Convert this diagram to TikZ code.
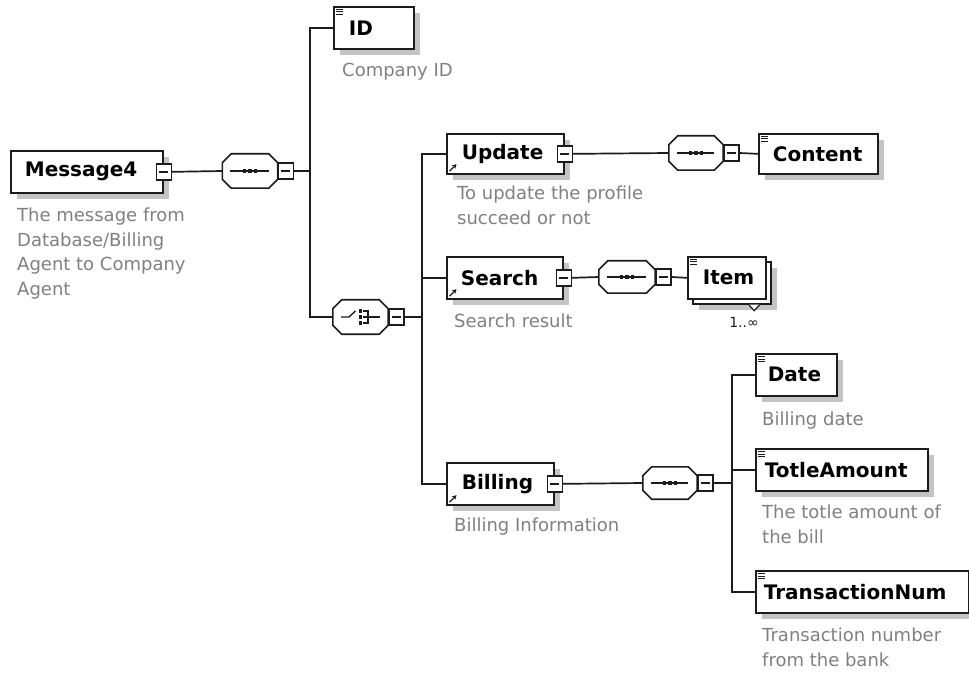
\documentclass[tikz,border=0pt]{standalone}
\usepackage{fontspec}
\setmainfont{DejaVu Sans}
\usetikzlibrary{calc,shadows,arrows.meta}

\definecolor{ink}{RGB}{28,28,28}
\definecolor{shade}{RGB}{196,196,196}
\definecolor{note}{RGB}{128,128,128}

\tikzset{
  conn/.style={draw=ink, line width=1.7pt},
  shd/.style={drop shadow={shadow xshift=6pt, shadow yshift=-6pt, fill=shade, opacity=1}},
  elem/.style={draw=ink, line width=1.7pt, fill=white, inner sep=0pt,
    anchor=north west, align=left, minimum height=42pt,
    font=\fontsize{20}{23}\selectfont\bfseries},
  cbox/.style={draw=ink, line width=1.4pt, fill=white, inner sep=0pt,
    minimum width=15pt, minimum height=16pt,
    path picture={\draw[ink, line width=1.4pt]
      ([xshift=3pt]path picture bounding box.west) --
      ([xshift=-3pt]path picture bounding box.east);}},
  compbox/.style={inner sep=0pt, minimum width=55pt, minimum height=33pt},
  desc/.style={anchor=north west, inner sep=0pt, align=left, text=note,
    font=\fontsize{18}{24.5}\selectfont},
  icon/.style={draw=ink, line width=1pt},
}

% octagonal compositor outline (with its shadow) around a named node
\newcommand\compoutline[2][]{%
  \path[#1] ([xshift=9pt]#2.north west) -- ([xshift=-9pt]#2.north east)
    -- ([yshift=-9pt]#2.north east) -- ([yshift=9pt]#2.south east)
    -- ([xshift=-9pt]#2.south east) -- ([xshift=9pt]#2.south west)
    -- ([yshift=9pt]#2.south west) -- ([yshift=-9pt]#2.north west) -- cycle;}
\newcommand\compositor[1]{%
  \begin{scope}[shift={(5pt,-5pt)}]\compoutline[fill=shade]{#1}\end{scope}
  \compoutline[fill=white, draw=ink, line width=1.6pt]{#1}}
% sequence symbol: a line with three dots
\newcommand\seqsym[1]{%
  \draw[ink, line width=1.4pt] ([xshift=8pt]#1.west) -- ([xshift=-9pt]#1.east);
  \foreach \d in {-5.5,0,5.5}
    \fill[ink] ([shift={(\d pt-1.8pt,-1.8pt)}]#1.center) rectangle ++(3.6pt,3.6pt);}
% choice symbol: a switch and three stacked dots with a bracket
\newcommand\choicesym[1]{%
  \draw[ink, line width=1.4pt] ([xshift=-19.5pt]#1.center) -- ([xshift=-11.5pt]#1.center)
    -- ([shift={(-5pt,6pt)}]#1.center);
  \foreach \d in {-6,0,6}
    \fill[ink] ([shift={(-1.7pt,\d pt-1.7pt)}]#1.center) rectangle ++(3.4pt,3.4pt);
  \draw[ink, line width=1.4pt] ([shift={(2pt,6pt)}]#1.center) -- ([shift={(7.5pt,6pt)}]#1.center)
    -- ([shift={(7.5pt,-6pt)}]#1.center) -- ([shift={(2pt,-6pt)}]#1.center);
  \draw[ink, line width=1.4pt] ([xshift=2pt]#1.center) -- ([xshift=19.5pt]#1.center);}
% element marker in the upper left corner
\newcommand\elemmark[1]{%
  \foreach \d in {3.5,6,8.5}
    \draw[icon] ([shift={(3pt,-\d pt)}]#1.north west) -- ++(6.5pt,0pt);}
% reference marker in the lower left corner
\newcommand\refmark[1]{%
  \draw[ink, line width=1.3pt, -{Stealth[length=4.5pt,width=5pt]}]
    ([shift={(3.5pt,3.5pt)}]#1.south west) -- ([shift={(10.5pt,10.5pt)}]#1.south west);}

\begin{document}
\begin{tikzpicture}[x=1pt, y=-1pt]
\fill[white] (0,0) rectangle (969,676);
\useasboundingbox (0,0) rectangle (969,676);

% ---------- root element and its sequence ----------
\node[elem, shd, text width=152pt] (msg) at (10,150) {\hspace*{14pt}Message4};
\node[cbox] (msgc) at (msg.east) {};
\node[compbox, minimum height=34pt] (s1) at (250,171) {};
\compositor{s1}\seqsym{s1}
\node[cbox, anchor=west] (s1c) at (s1.east) {};
\node[desc] (msgd) at (17,208) {The message from\\Database/Billing\\Agent to Company\\Agent};

% ---------- ID ----------
\node[elem, shd, text width=80pt] (id) at (333,6) {\hspace*{15pt}ID};
\elemmark{id}
\node[desc] (idd) at (342,63) {Company ID};

% ---------- choice ----------
\node[compbox, minimum height=34pt] (ch) at (360.5,317) {};
\compositor{ch}\choicesym{ch}
\node[cbox, anchor=west] (chc) at (ch.east) {};

% ---------- Update ----------
\node[elem, shd, text width=117pt, minimum height=40pt] (upd) at (446,133) {\hspace*{15pt}Update};
\refmark{upd}
\node[cbox] (updc) at (upd.east) {};
\node[compbox, minimum width=54pt, minimum height=34pt] (s2) at (696,153) {};
\compositor{s2}\seqsym{s2}
\node[cbox, anchor=west] (s2c) at (s2.east) {};
\node[elem, shd, text width=119pt, minimum height=40pt] (cont) at (758,133) {\hspace*{14pt}Content};
\elemmark{cont}
\node[desc] (updd) at (457,186) {To update the profile\\succeed or not};

% ---------- Search ----------
\node[elem, shd, text width=116pt] (srch) at (446,256) {\hspace*{14pt}Search};
\refmark{srch}
\node[cbox] (srchc) at (srch.east) {};
\node[compbox, minimum width=56pt, minimum height=32pt] (s3) at (627,277) {};
\compositor{s3}\seqsym{s3}
\node[cbox, anchor=west] (s3c) at (s3.east) {};
\node[elem, shd, text width=78pt] (itemb) at (692,261) {};
\node[elem, text width=78pt] (item) at (687,256) {\hspace*{15pt}Item};
\elemmark{item}
\draw[ink, line width=1.2pt, fill=white] ($(itemb.south east)+(-23,0)$) -- ($(itemb.south east)+(-17.5,6)$) -- ($(itemb.south east)+(-12,0)$);
\node[inner sep=0pt, font=\fontsize{14}{16}\selectfont, text=ink] (mult) at (744,322) {1..∞};
\node[desc] (srchd) at (454,314) {Search result};

% ---------- Billing ----------
\node[elem, shd, text width=107pt] (bill) at (446,462) {\hspace*{15pt}Billing};
\refmark{bill}
\node[cbox] (billc) at (bill.east) {};
\node[compbox, minimum width=54pt, minimum height=32pt] (s4) at (670,483) {};
\compositor{s4}\seqsym{s4}
\node[cbox, anchor=west] (s4c) at (s4.east) {};
\node[desc] (billd) at (454,518) {Billing Information};

\node[elem, shd, text width=81pt] (date) at (755,353) {\hspace*{12pt}Date};
\elemmark{date}
\node[desc] (dated) at (762,412) {Billing date};
\node[elem, shd, text width=172pt] (tot) at (755,448) {\hspace*{9pt}TotleAmount};
\elemmark{tot}
\node[desc] (totd) at (762,505) {The totle amount of\\the bill};
\node[elem, shd, text width=213pt] (tn) at (755,570) {\hspace*{8pt}TransactionNum};
\elemmark{tn}
\node[desc] (tnd) at (762,628) {Transaction number\\from the bank};

% ---------- connectors ----------
\coordinate (b1) at (310,171);
\coordinate (b2) at (422,317);
\coordinate (b3) at (732,483);
\draw[conn] (msgc.east) -- (s1.west);
\draw[conn] (s1c.east) -- (b1);
\draw[conn] (b1) |- (id.west);
\draw[conn] (b1) |- (ch.west);
\draw[conn] (chc.east) -- (b2);
\draw[conn] (b2) |- (upd.west);
\draw[conn] (b2) |- (srch.west);
\draw[conn] (b2) |- (bill.west);
\draw[conn] (updc.east) -- (s2.west);
\draw[conn] (s2c.east) -- (cont.west);
\draw[conn] (srchc.east) -- (s3.west);
\draw[conn] (s3c.east) -- (item.west);
\draw[conn] (billc.east) -- (s4.west);
\draw[conn] (s4c.east) -- (b3);
\draw[conn] (b3) |- (date.west);
\draw[conn] (b3) |- (tot.west);
\draw[conn] (b3) |- (tn.west);
\end{tikzpicture}
\end{document}
